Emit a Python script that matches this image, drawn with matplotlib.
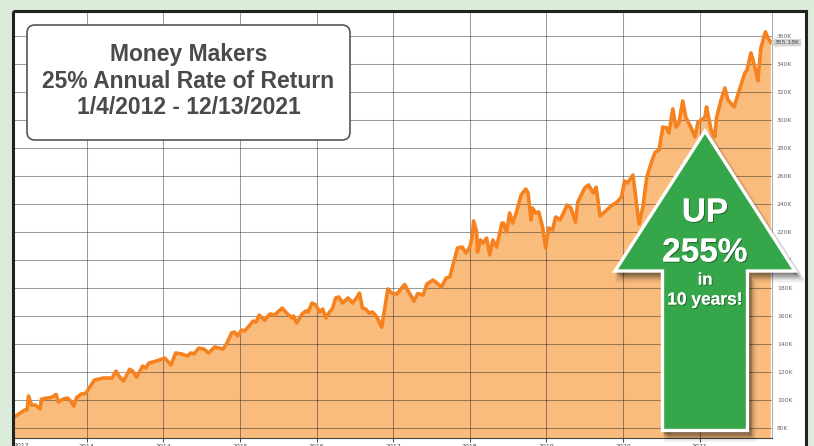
import matplotlib.pyplot as plt
import matplotlib.patheffects as pe
from matplotlib.patches import Rectangle, FancyBboxPatch, Polygon
from matplotlib.transforms import Affine2D, blended_transform_factory

W, H = 814, 446

# account value (fractional year, thousands of dollars)
years = [
    2012.05, 2012.13, 2012.19, 2012.22, 2012.24, 2012.28, 2012.33, 2012.39, 2012.41, 2012.48,
    2012.54, 2012.60, 2012.63, 2012.69, 2012.75, 2012.80, 2012.83, 2012.87, 2012.93, 2012.99,
    2013.04, 2013.10, 2013.16, 2013.21, 2013.27, 2013.33, 2013.38, 2013.43, 2013.48, 2013.56,
    2013.60, 2013.65, 2013.73, 2013.77, 2013.81, 2013.91, 2014.02, 2014.04, 2014.10, 2014.16,
    2014.24, 2014.31, 2014.36, 2014.40, 2014.46, 2014.53, 2014.59, 2014.67, 2014.78, 2014.83,
    2014.89, 2014.93, 2014.97, 2015.02, 2015.06, 2015.13, 2015.17, 2015.21, 2015.25, 2015.32,
    2015.39, 2015.45, 2015.55, 2015.61, 2015.68, 2015.70, 2015.74, 2015.81, 2015.86, 2015.89,
    2015.94, 2015.99, 2016.04, 2016.08, 2016.12, 2016.17, 2016.21, 2016.25, 2016.29, 2016.34,
    2016.41, 2016.47, 2016.53, 2016.56, 2016.60, 2016.64, 2016.69, 2016.73, 2016.79, 2016.85,
    2016.89, 2016.93, 2016.98, 2017.05, 2017.11, 2017.15, 2017.20, 2017.27, 2017.32, 2017.39,
    2017.44, 2017.52, 2017.57, 2017.63, 2017.69, 2017.74, 2017.78, 2017.84, 2017.90, 2017.95,
    2018.00, 2018.03, 2018.05, 2018.09, 2018.10, 2018.14, 2018.17, 2018.22, 2018.26, 2018.30,
    2018.35, 2018.42, 2018.44, 2018.48, 2018.52, 2018.56, 2018.61, 2018.67, 2018.73, 2018.76,
    2018.80, 2018.82, 2018.86, 2018.90, 2018.95, 2018.99, 2019.03, 2019.08, 2019.12, 2019.18,
    2019.27, 2019.32, 2019.38, 2019.41, 2019.50, 2019.55, 2019.61, 2019.65, 2019.70, 2019.76,
    2019.83, 2019.92, 2019.98, 2020.02, 2020.06, 2020.13, 2020.17, 2020.21, 2020.26, 2020.31,
    2020.38, 2020.42, 2020.47, 2020.52, 2020.57, 2020.60, 2020.65, 2020.69, 2020.73, 2020.78,
    2020.82, 2020.89, 2020.94, 2020.98, 2021.04, 2021.07, 2021.09, 2021.15, 2021.20, 2021.22,
    2021.28, 2021.33, 2021.37, 2021.45, 2021.50, 2021.55, 2021.59, 2021.62, 2021.67, 2021.69,
    2021.73, 2021.76, 2021.80, 2021.84, 2021.86, 2021.89, 2021.93,
]
values_k = [
    87.9, 90.7, 92.9, 93.0, 102.9, 96.4, 96.4, 93.6, 100.7, 101.4,
    102.0, 104.0, 98.6, 100.7, 101.4, 98.6, 95.7, 102.0, 104.3, 105.0,
    109.3, 114.3, 115.0, 115.7, 115.7, 115.7, 120.7, 116.4, 113.6, 122.0,
    120.7, 116.4, 124.3, 122.9, 126.4, 127.9, 130.0, 128.6, 125.0, 133.6,
    132.9, 131.4, 133.6, 132.9, 137.0, 136.4, 133.6, 137.9, 136.4, 140.7,
    147.9, 148.6, 145.7, 150.0, 149.3, 153.6, 156.4, 155.7, 160.7, 157.0,
    161.4, 160.7, 165.7, 162.0, 158.6, 160.0, 155.0, 161.4, 163.6, 162.9,
    169.3, 167.9, 162.9, 165.0, 158.6, 162.9, 165.7, 172.9, 173.6, 169.3,
    172.9, 169.3, 173.6, 176.4, 165.7, 165.0, 162.0, 162.9, 159.0, 152.0,
    165.7, 179.3, 176.4, 175.7, 180.0, 182.5, 177.5, 170.7, 176.0, 175.0,
    182.9, 185.7, 183.6, 180.7, 187.1, 187.9, 196.4, 208.6, 209.3, 205.0,
    209.3, 216.4, 227.9, 220.0, 205.7, 214.3, 212.0, 215.7, 203.6, 214.3,
    209.3, 226.4, 226.4, 220.0, 233.6, 226.4, 234.3, 246.4, 250.7, 247.9,
    228.6, 237.1, 233.6, 234.3, 223.6, 208.6, 222.9, 221.4, 230.7, 228.6,
    239.3, 237.1, 227.0, 241.4, 251.4, 253.6, 247.9, 252.0, 231.4, 234.3,
    237.9, 241.4, 245.0, 256.4, 255.0, 260.7, 242.9, 225.7, 237.9, 259.0,
    271.4, 277.0, 278.6, 295.0, 294.3, 290.7, 307.9, 295.0, 297.9, 313.6,
    302.0, 294.3, 287.9, 298.6, 300.7, 302.0, 309.3, 292.9, 288.0, 301.4,
    314.3, 322.9, 314.3, 309.3, 317.9, 326.4, 333.6, 335.7, 347.9, 344.3,
    335.7, 327.9, 351.4, 359.3, 362.9, 358.6, 355.18,
]

year_ticks = list(range(2012, 2022))
value_ticks = list(range(80, 361, 20))
last_value_k = 355.18

title_lines = ["Money Makers", "25% Annual Rate of Return", "1/4/2012 - 12/13/2021"]

fig = plt.figure(figsize=(W / 100, H / 100), dpi=100, facecolor="#dcecda")
# pixel coordinates measured from the top-left corner of the image
px = Affine2D().scale(1 / W, -1 / H).translate(0, 1) + fig.transFigure

# white chart panel with dark frame
fig.add_artist(Rectangle((12.5, 11.3), 793, 600, transform=px,
                         facecolor="white", edgecolor="none", zorder=-5))
fig.add_artist(Rectangle((12.5, 11.3), 793, 600, transform=px,
                         facecolor="none", edgecolor="#222222", lw=2.2, zorder=6))

ax = fig.add_axes([14 / W, 1 - 438 / H, (772 - 14) / W, (438 - 12) / H])
ax.set_facecolor("white")
ax.fill_between(years, values_k, 0, color="#f9bc7d", lw=0, zorder=1)
ax.plot(years, values_k, color="#f5821f", lw=2.6, solid_joinstyle="round",
        solid_capstyle="round", zorder=3)
ax.set_xlim(2012.05, 2021.945)
ax.set_ylim(72.9, 377.1)

ax.set_xticks(year_ticks[1:])
ax.set_xticklabels([str(y) for y in year_ticks[1:]])
ax.text(0.0, -0.012, str(year_ticks[0]), transform=ax.transAxes, ha="left", va="top",
        fontsize=4.5, color="#444444", clip_on=False)
ax.set_yticks(value_ticks)
ax.set_yticklabels([f"{v}K" for v in value_ticks])
ax.yaxis.tick_right()
ax.tick_params(axis="y", length=0, pad=3.5, labelsize=4.3, labelcolor="#666666")
ax.tick_params(axis="x", length=3, width=0.7, color="#444444", pad=1.2,
               labelsize=4.5, labelcolor="#444444")
ax.grid(True, color="#222222", alpha=0.45, lw=0.75, zorder=2)

for side in ("left", "top"):
    ax.spines[side].set_visible(False)
ax.spines["right"].set_color("#aaaaaa")
ax.spines["right"].set_linewidth(0.7)
ax.spines["bottom"].set_color("#444444")
ax.spines["bottom"].set_linewidth(0.8)

# last value tag
tag_tr = blended_transform_factory(ax.transAxes, ax.transData)
ax.text(1.004, last_value_k, f"{last_value_k:.2f}K", transform=tag_tr, ha="left",
        va="center", fontsize=4.3, color="#444444", clip_on=False, zorder=7,
        bbox=dict(boxstyle="larrow,pad=0.2", fc="#d6d6d6", ec="none"))

# title box
fig.add_artist(FancyBboxPatch((27, 25), 323, 115, transform=px,
                              boxstyle="round,pad=0,rounding_size=8",
                              facecolor="white", edgecolor="#555555", lw=1.2, zorder=4))
fig.text(188.5, 81, "\n".join(title_lines), transform=px, ha="center", va="center",
         fontsize=16.5, linespacing=1.22, fontweight="bold", color="#4a4a4a",
         family="Liberation Sans", zorder=5)

# big green arrow
arrow = [(705, 131), (795, 271), (747.5, 271), (747.5, 430.5),
         (662.5, 430.5), (662.5, 271), (615, 271)]
for off, a in ((8, 0.07), (6, 0.09), (4, 0.12), (2.5, 0.15)):
    shadow = [(x + off * 0.7, y + off) for x, y in arrow]
    fig.add_artist(Polygon(shadow, closed=True, transform=px, facecolor="black",
                           edgecolor="black", lw=off * 0.6, alpha=a, zorder=4))
fig.add_artist(Polygon(arrow, closed=True, transform=px, facecolor="#36a64a",
                       edgecolor="white", lw=2.4, joinstyle="miter", zorder=5))

shadow_fx = [pe.withSimplePatchShadow(offset=(0.8, -0.8), shadow_rgbFace="black", alpha=0.35),
             pe.Normal()]
for text, y, size in (("UP", 213, 24), ("255%", 253, 24), ("in", 280, 12), ("10 years!", 300, 12.5)):
    fig.text(705, y, text, transform=px, ha="center", va="center", fontsize=size,
             fontweight="bold", color="white", family="Liberation Sans", zorder=6,
             path_effects=shadow_fx)

fig.savefig("out.png", dpi=100, facecolor=fig.get_facecolor())
